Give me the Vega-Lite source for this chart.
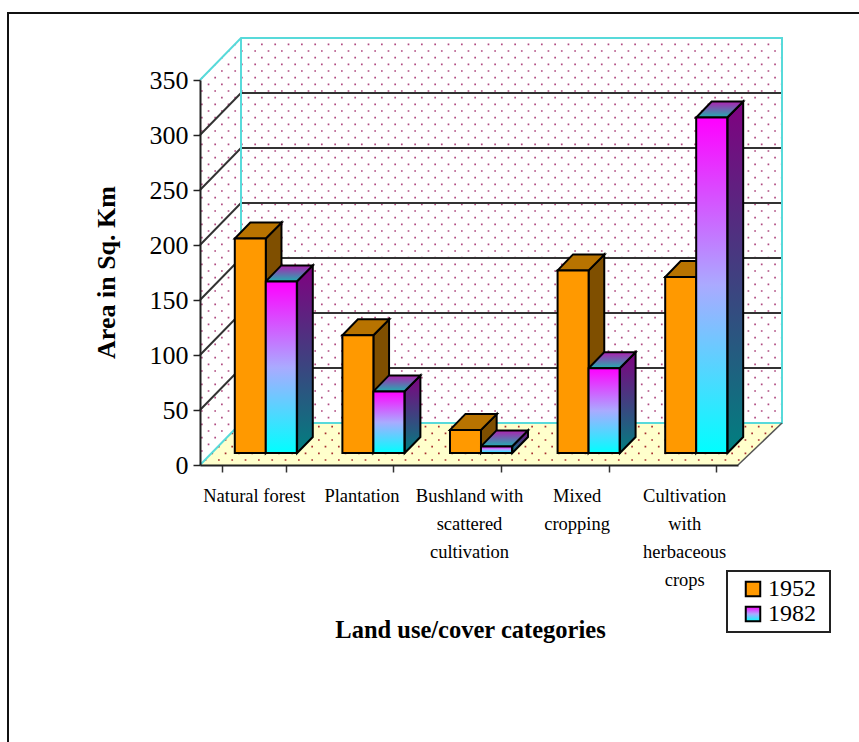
{
"$schema":"https://vega.github.io/schema/vega-lite/v6.json",
"autosize":{"type":"none"},
"padding":{"left":200,"top":80,"right":121,"bottom":277},
"width":538,"height":385,
"background":"white",
"datasets":{
"bars":[
{"category":"Natural forest","series":"1952","value":195,"slot":["1952 near","1952 far"],"depth":["near","far"]},
{"category":"Natural forest","series":"1982","value":156,"slot":["1982 near","1982 far"],"depth":["near","far"]},
{"category":"Plantation","series":"1952","value":107,"slot":["1952 near","1952 far"],"depth":["near","far"]},
{"category":"Plantation","series":"1982","value":56,"slot":["1982 near","1982 far"],"depth":["near","far"]},
{"category":"Bushland with scattered cultivation","series":"1952","value":21,"slot":["1952 near","1952 far"],"depth":["near","far"]},
{"category":"Bushland with scattered cultivation","series":"1982","value":6,"slot":["1982 near","1982 far"],"depth":["near","far"]},
{"category":"Mixed cropping","series":"1952","value":166,"slot":["1952 near","1952 far"],"depth":["near","far"]},
{"category":"Mixed cropping","series":"1982","value":77,"slot":["1982 near","1982 far"],"depth":["near","far"]},
{"category":"Cultivation with herbaceous crops","series":"1952","value":160,"slot":["1952 near","1952 far"],"depth":["near","far"]},
{"category":"Cultivation with herbaceous crops","series":"1982","value":305,"slot":["1982 near","1982 far"],"depth":["near","far"]}
],
"origin":[{"tick":0}],
"grid":[{"tick":50},{"tick":100},{"tick":150},{"tick":200},{"tick":250},{"tick":300}]
},
"layer":[
{"data":{"name":"origin"},"mark":{"type":"point","shape":"M-461,277V-452H390","size":4,"filled":false,"stroke":"#111111","strokeWidth":2,"opacity":1},
 "encoding":{"y":{"field":"tick","type":"quantitative","axis":null,"scale":{"domain":[0,350],"nice":false}}}},
{"data":{"name":"origin"},"mark":{"type":"point","size":4,"filled":false,"stroke":"#B04A80","strokeWidth":1.7,"strokeDash":[1.7,11.63],"opacity":1,
 "shape":"M-261.3,-420.7h574M-268,-414h581M-261.3,-407.4h574M-268,-400.7h581M-261.3,-394h574M-268,-387.4h581M-261.3,-380.7h574M-268,-374h581M-261.3,-367.4h574M-268,-360.7h581M-261.3,-354h574M-268,-347.4h581M-261.3,-340.7h574M-268,-334h581M-261.3,-327.4h574M-268,-320.7h581M-261.3,-314h574M-268,-307.4h581M-261.3,-300.7h574M-268,-294h581M-261.3,-287.4h574M-268,-280.7h581M-261.3,-274h574M-268,-267.4h581M-261.3,-260.7h574M-268,-254h581M-261.3,-247.4h574M-268,-240.7h581M-261.3,-234h574M-268,-227.4h581M-261.3,-220.7h574M-268,-214h581M-261.3,-207.4h574M-268,-200.7h581M-261.3,-194h574M-268,-187.4h581M-261.3,-180.7h574M-268,-174h581M-261.3,-167.4h574M-268,-160.7h581M-261.3,-154h574M-268,-147.4h581M-261.3,-140.7h574M-268,-134h581M-261.3,-127.4h574M-268,-120.7h581M-261.3,-114h574M-268,-107.4h581M-261.3,-100.7h574M-268,-94h581M-261.3,-87.4h574M-268,-80.7h581M-261.3,-74h574M-268,-67.4h581M-261.3,-60.7h574M-268,-54h581M-261.3,-47.4h574M-268,-40.7h40M-261.3,-34h34M-268,-27.4h40M-261.3,-20.7h34M-268,-14h40M-261.3,-7.4h34"},
 "encoding":{"y":{"field":"tick","type":"quantitative","axis":null}}},
{"data":{"name":"origin"},"mark":{"type":"point","shape":"M-270,-385L-228,-427V-440H-270Z","size":4,"filled":true,"fill":"white","stroke":null,"opacity":1},
 "encoding":{"y":{"field":"tick","type":"quantitative","axis":null}}},
{"data":{"name":"grid"},"mark":{"type":"point","shape":"M-269,0L-228,-42H313","size":4,"filled":false,"stroke":"#333333","strokeWidth":2,"opacity":1},
 "encoding":{"y":{"field":"tick","type":"quantitative","axis":null}}},
{"data":{"name":"origin"},"mark":{"type":"point","shape":"M-269,0L-228,-42H313L269,0Z","size":4,"filled":true,"fill":"#FFFFCC","stroke":null,"opacity":1},
 "encoding":{"y":{"field":"tick","type":"quantitative","axis":null}}},
{"data":{"name":"origin"},"mark":{"type":"point","size":4,"filled":false,"stroke":"#A83030","strokeWidth":1.7,"strokeDash":[1.7,11.63],"opacity":1,
 "shape":"M-264.3,-5h538M-257.6,-11.7h538M-251,-18.4h538M-244.3,-25h538M-237.6,-31.7h538M-231,-38.4h538"},
 "encoding":{"y":{"field":"tick","type":"quantitative","axis":null}}},
{"data":{"name":"origin"},"mark":{"type":"point","shape":"M-269,-385L-228,-427H313V-42H-228V-427M-269,0L-228,-42","size":4,"filled":false,"stroke":"#58DADA","strokeWidth":2,"opacity":1},
 "encoding":{"y":{"field":"tick","type":"quantitative","axis":null}}},
{"data":{"name":"origin"},"mark":{"type":"point","shape":"M269,0L313,-42","size":4,"filled":false,"stroke":"#555555","strokeWidth":1.5,"opacity":1},
 "encoding":{"y":{"field":"tick","type":"quantitative","axis":null}}},
{"data":{"name":"origin"},"mark":{"type":"point","shape":"M258,106H361V167H258Z","size":4,"filled":true,"fill":"white","stroke":"#222222","strokeWidth":2,"opacity":1},
 "encoding":{"y":{"field":"tick","type":"quantitative","axis":null}}},
{"data":{"name":"bars"},
 "transform":[{"flatten":["slot","depth"]}],
 "mark":{"type":"area","stroke":"black","strokeWidth":2,"opacity":1,"yOffset":{"expr":"datum.depth=='far'?-28:-12"},"y2Offset":{"expr":"datum.depth=='far'?-28:-12"}},
 "encoding":{
  "x":{"field":"category","type":"nominal","axis":null},
  "xOffset":{"field":"slot","type":"nominal","scale":{"type":"point","domain":["1952 near","1952 far","1982 near","1982 far"],"range":[44,91],"padding":0}},
  "y":{"field":"value","type":"quantitative","stack":null,"axis":null},
  "y2":{"datum":0},
  "detail":{"field":"category"},
  "fill":{"field":"series","type":"nominal","legend":null,"scale":{"domain":["1952","1982"],"range":["#7F4F00",{"expr":"{gradient:'linear',x1:0,y1:0,x2:0,y2:1,stops:[{offset:0,color:'#800080'},{offset:1,color:'#008080'}]}"}]}}
 }},
{"data":{"name":"bars"},
 "mark":{"type":"point","shape":"M-15.5,0H15.5L31.5,-16H0Z","size":4,"filled":true,"stroke":"black","strokeWidth":2,"opacity":1,"yOffset":-12},
 "encoding":{
  "x":{"field":"category","type":"nominal","axis":null},
  "xOffset":{"field":"series","type":"nominal","scale":{"domain":["1952","1982"],"range":[13,75]}},
  "y":{"field":"value","type":"quantitative","stack":null,"axis":null},
  "fill":{"field":"series","type":"nominal","legend":null,"scale":{"domain":["1952","1982"],"range":["#B87300",{"expr":"{gradient:'linear',x1:0,y1:0,x2:0,y2:1,stops:[{offset:0,color:'#B020B0'},{offset:1,color:'#20B0B0'}]}"}]}}
 }},
{"data":{"name":"bars"},
 "mark":{"type":"bar","stroke":"black","strokeWidth":2,"opacity":1,"yOffset":-12,"y2Offset":-12},
 "encoding":{
  "x":{"field":"category","type":"nominal","sort":null,
   "scale":{"type":"band","domain":["Natural forest","Plantation","Bushland with scattered cultivation","Mixed cropping","Cultivation with herbaceous crops"],"paddingInner":0.405,"paddingOuter":0.2025},
   "axis":{"title":"Land use/cover categories","titleFont":"Liberation Serif","titleFontSize":24.5,"titleFontWeight":"bold","titleColor":"black","titleX":270,"titleY":165,"titleBaseline":"middle",
    "labelFont":"Liberation Serif","labelFontSize":18.5,"labelColor":"black","labelAngle":0,"labelLimit":0,"labelPadding":14,"labelLineHeight":28,"labelBaseline":"top",
    "labelExpr":"datum.label=='Bushland with scattered cultivation'?['Bushland with','scattered','cultivation']:datum.label=='Mixed cropping'?['Mixed','cropping']:datum.label=='Cultivation with herbaceous crops'?['Cultivation','with','herbaceous','crops']:datum.label",
    "tickBand":"extent","tickSize":7,"tickColor":"#333333","tickWidth":1.5,"domainColor":"#222222","domainWidth":2,"grid":false,"zindex":1}},
  "xOffset":{"field":"series","type":"nominal","scale":{"domain":["1952","1982"],"range":[13,75]}},
  "y":{"field":"value","type":"quantitative","stack":null,
   "scale":{"domain":[0,350],"nice":false},
   "axis":{"title":"Area in Sq. Km","titleFont":"Liberation Serif","titleFontSize":26,"titleFontWeight":"bold","titleColor":"black","titleX":-81,"titleY":192,
    "values":[0,50,100,150,200,250,300,350],"grid":false,"labelFont":"Liberation Serif","labelFontSize":26,"labelColor":"black","labelPadding":5,"tickSize":7,"tickColor":"#222222","tickWidth":1.5,"domainColor":"#222222","domainWidth":2,"zindex":1}},
  "y2":{"datum":0},
  "fill":{"field":"series","type":"nominal","scale":{"domain":["1952","1982"],"range":["#FF9900",{"expr":"{gradient:'linear',x1:0,y1:0,x2:0,y2:1,stops:[{offset:0,color:'#FF00FF'},{offset:0.5,color:'#AAAAFF'},{offset:1,color:'#00FFFF'}]}"}]},
   "legend":{"title":null,"orient":"none","legendX":541,"legendY":497,"padding":0,"symbolType":"square","symbolSize":210,"symbolStrokeColor":"black","symbolStrokeWidth":2,"symbolOpacity":1,"labelFont":"Liberation Serif","labelFontSize":24,"labelColor":"black","labelOffset":3,"rowPadding":1}}
 }}
],
"resolve":{"scale":{"fill":"independent","xOffset":"independent"},"axis":{"x":"independent","y":"independent"}},
"config":{"view":{"stroke":null}}
}
